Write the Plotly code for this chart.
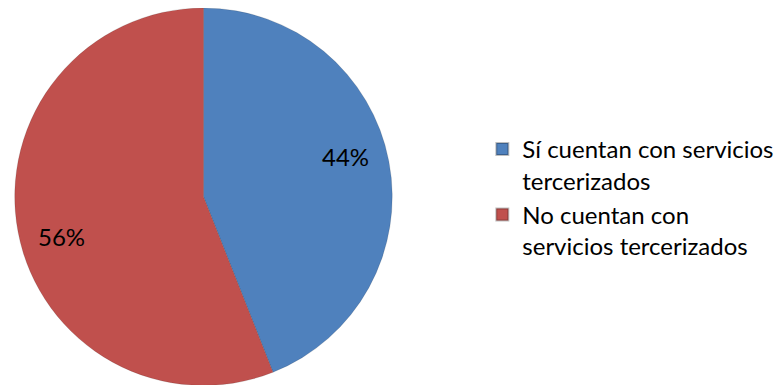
import numpy as np
import plotly.graph_objects as go

labels = ["Sí cuentan con servicios<br>tercerizados", "No cuentan con<br>servicios tercerizados"]
values = [44, 56]
colors = ["#4F81BD", "#C0504D"]

W, H = 784, 385
CX, CY, R = 195.5, 188.5, 189.5  # pie centre / radius in figure pixels (for label placement)

fig = go.Figure(go.Pie(
    labels=labels,
    values=values,
    sort=False,
    direction="clockwise",
    rotation=0,
    marker=dict(colors=colors, line=dict(color="rgba(0,0,0,0.25)", width=0.5)),
    textinfo="none",
    domain=dict(x=[0.0070, 0.4917], y=[0.0195, 1.0]),
    hoverinfo="label+percent",
))

# percentage labels, placed at each slice's mid-angle
vals = np.array(values, dtype=float)
fracs = vals / vals.sum()
mids = (np.cumsum(fracs) - fracs / 2) * 360.0 - 5.0
rr = 0.78 * R
for f, a in zip(fracs, mids):
    t = np.deg2rad(a)
    px = CX + rr * np.sin(t)
    py = CY - rr * np.cos(t)
    fig.add_annotation(
        x=px / W, y=1 - py / H, xref="paper", yref="paper",
        text=f"{round(f * 100)}%", showarrow=False,
        font=dict(family="Lato", size=24, color="#000000"),
        xanchor="center", yanchor="middle",
    )

fig.update_layout(
    width=W, height=H,
    margin=dict(l=0, r=0, t=0, b=0),
    paper_bgcolor="white",
    plot_bgcolor="white",
    showlegend=True,
    legend=dict(
        x=0.605, y=0.508, xanchor="left", yanchor="middle",
        font=dict(family="Lato", size=24, color="#000000"),
        tracegroupgap=30,
        valign="top",
        itemsizing="constant",
    ),
)

fig.write_html("out.html")
